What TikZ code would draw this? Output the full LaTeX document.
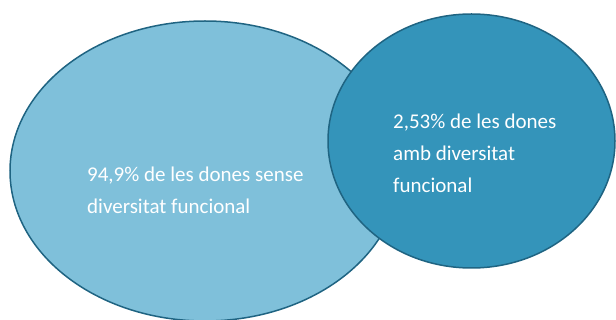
\documentclass[tikz,border=0pt]{standalone}
\usepackage{fontspec}
\setmainfont{Carlito}
\usetikzlibrary{shapes.geometric, positioning}
\definecolor{sensefill}{HTML}{7FC0DA}
\definecolor{ambfill}{HTML}{3494BA}
\definecolor{vora}{HTML}{1F6482}

\begin{document}
\begin{tikzpicture}[x=1pt, y=-1pt,
    bubble/.style={ellipse, draw=vora, line width=1.5pt, inner sep=0pt},
    bubbletext/.style={text=white, align=left, font=\fontsize{21}{32}\selectfont, inner sep=0pt, anchor=base west}]
    % Frame
    \useasboundingbox (0,0) rectangle (616,320);
    \clip (0,0) rectangle (616,320);
    % Big ellipse
    \node[bubble, fill=sensefill, minimum width=390pt, minimum height=300pt] (sense) at (205,171) {};
    % Small ellipse
    \node[bubble, fill=ambfill, minimum width=287pt, minimum height=254pt] (amb) at (471.5,141) {};
    % Labels (base = last line)
    \node[bubbletext] (sensetext) at (87,214) {94,9\% de les dones sense\\diversitat funcional};
    \node[bubbletext] (ambtext) at (393,193) {2,53\% de les dones\\amb diversitat\\funcional};
\end{tikzpicture}
\end{document}
